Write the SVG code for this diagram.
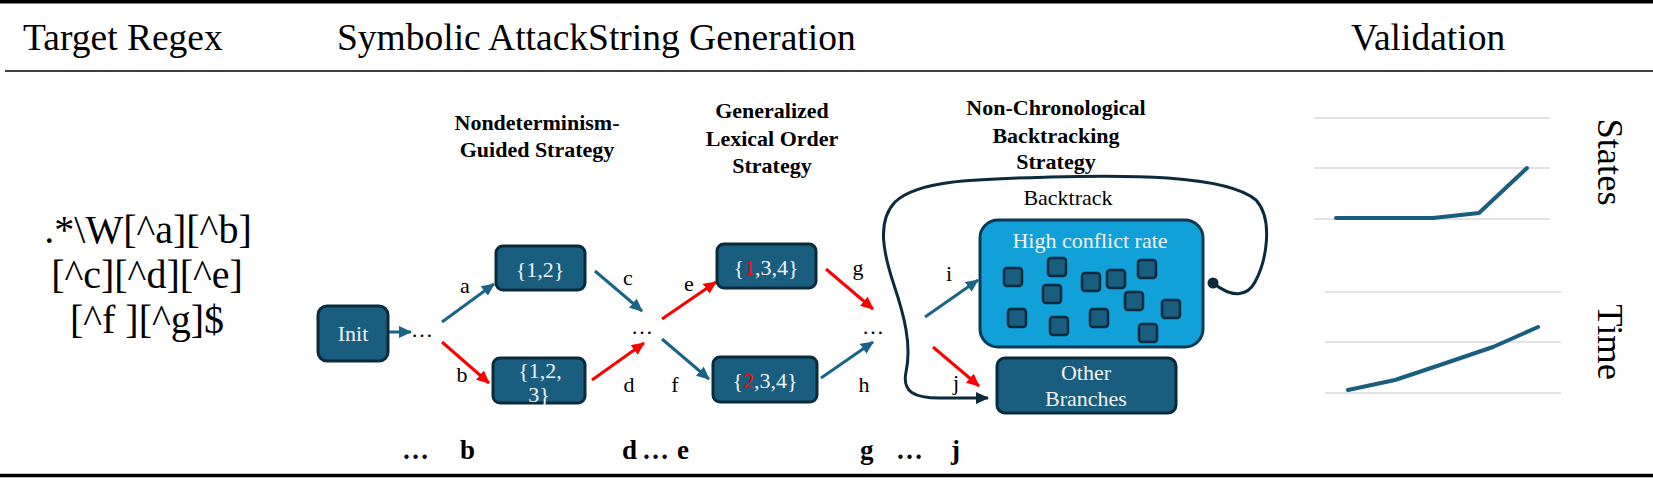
<svg xmlns="http://www.w3.org/2000/svg" width="1653" height="488" viewBox="0 0 1653 488">
<style>
text{font-family:"Liberation Serif","Times New Roman",serif;}
.hdr{font-size:37.5px;fill:#000;}
.rot{font-size:36.5px;fill:#000;text-anchor:middle;}
.ttl{font-size:22px;font-weight:bold;fill:#000;text-anchor:middle;}
.rx{font-size:40px;fill:#000;text-anchor:middle;}
.lbl{font-size:22px;fill:#000;text-anchor:middle;}
.ntx{font-size:22px;fill:#f2f2f2;text-anchor:middle;}
.red{fill:#ff0000;}
.node{fill:#195e7e;stroke:#0b2b3d;stroke-width:3;}
.sq{fill:#195e7e;stroke:#0b2b3d;stroke-width:2.5;}
.big{fill:#12a0d8;stroke:#0b3a54;stroke-width:3;}
.at{stroke:#1a6587;stroke-width:3;fill:none;marker-end:url(#mt);}
.ar{stroke:#ff0000;stroke-width:3;fill:none;marker-end:url(#mr);}
.grid{stroke:#d9d9d9;stroke-width:1.6;}
.cl{stroke:#195e7e;stroke-width:4;fill:none;stroke-linecap:round;stroke-linejoin:round;}
.bot{font-size:27px;font-weight:bold;fill:#000;}
</style>
<defs>
<marker id="mt" markerUnits="userSpaceOnUse" markerWidth="14" markerHeight="12" refX="12" refY="6" orient="auto"><path d="M0,0 L13,6 L0,12 z" fill="#1a6587"/></marker>
<marker id="mr" markerUnits="userSpaceOnUse" markerWidth="14" markerHeight="12" refX="12" refY="6" orient="auto"><path d="M0,0 L13,6 L0,12 z" fill="#ff0000"/></marker>
<marker id="mk" markerUnits="userSpaceOnUse" markerWidth="14" markerHeight="12" refX="12" refY="6" orient="auto"><path d="M0,0 L13,6 L0,12 z" fill="#0b2b3d"/></marker>
</defs>
<rect width="1653" height="488" fill="#fff"/>
<g id="frame">
<line x1="0" y1="1.8" x2="1653" y2="1.8" stroke="#000" stroke-width="3.6"/>
<line x1="5" y1="71" x2="1653" y2="71" stroke="#000" stroke-width="1.6"/>
<line x1="0" y1="475.5" x2="1653" y2="475.5" stroke="#000" stroke-width="3.6"/>
<text class="hdr" x="23" y="50">Target Regex</text>
<text class="hdr" x="337" y="50">Symbolic AttackString Generation</text>
<text class="hdr" x="1351" y="50">Validation</text>
</g>
<g id="regex">
<text class="rx" x="148" y="243">.*\W[^a][^b]</text>
<text class="rx" x="147" y="288">[^c][^d][^e]</text>
<text class="rx" x="147" y="333">[^f ][^g]$</text>
</g>
<g id="titles">
<text class="ttl" x="537" y="130">Nondeterminism-</text>
<text class="ttl" x="537" y="157">Guided Strategy</text>
<text class="ttl" x="772" y="118">Generalized</text>
<text class="ttl" x="772" y="146">Lexical Order</text>
<text class="ttl" x="772" y="173">Strategy</text>
<text class="ttl" x="1056" y="115">Non-Chronological</text>
<text class="ttl" x="1056" y="143">Backtracking</text>
<text class="ttl" x="1056" y="169">Strategy</text>
</g>
<g id="connectors">
<line class="at" x1="388" y1="332" x2="411" y2="332"/>
<line class="at" x1="442" y1="322" x2="494" y2="284"/>
<line class="ar" x1="442" y1="342" x2="489" y2="383"/>
<line class="at" x1="595" y1="271" x2="642" y2="311"/>
<line class="ar" x1="592" y1="380" x2="644" y2="343"/>
<line class="ar" x1="662" y1="319" x2="716" y2="282"/>
<line class="at" x1="662" y1="339" x2="709" y2="379"/>
<line class="ar" x1="826" y1="269" x2="873" y2="309"/>
<line class="at" x1="821" y1="378" x2="873" y2="342"/>
<line class="at" x1="925" y1="317" x2="978" y2="280"/>
<line class="ar" x1="933" y1="347" x2="979" y2="386"/>
<path d="M1213,283 C1232,298 1247,297 1255,282 C1266,262 1274,220 1256,200 C1225,174 1120,175 1050,177 C975,179 918,180 895,202 C876,222 884,255 894,285 C904,315 912,345 906,372 C902,392 914,398 940,398 L988,398" fill="none" stroke="#0b2b3d" stroke-width="3" marker-end="url(#mk)"/>
<circle cx="1213" cy="283" r="5.5" fill="#0b2b3d"/>
<text class="lbl" x="465" y="293">a</text>
<text class="lbl" x="462" y="382">b</text>
<text class="lbl" x="628" y="285">c</text>
<text class="lbl" x="629" y="392">d</text>
<text class="lbl" x="689" y="291">e</text>
<text class="lbl" x="675" y="392">f</text>
<text class="lbl" x="858" y="275">g</text>
<text class="lbl" x="864" y="392">h</text>
<text class="lbl" x="949" y="281">i</text>
<text class="lbl" x="956" y="390">j</text>
<text class="lbl" x="422" y="337">…</text>
<text class="lbl" x="642" y="334">…</text>
<text class="lbl" x="873" y="334">…</text>
<text class="lbl" x="1068" y="205">Backtrack</text>
</g>
<g id="init">
<rect class="node" x="318" y="306" width="70" height="55" rx="9"/>
<text class="ntx" x="353" y="341">Init</text>
</g>
<g id="n12">
<rect class="node" x="496" y="246" width="89" height="44" rx="7"/>
<text class="ntx" x="540" y="277">{1,2}</text>
</g>
<g id="n123">
<rect class="node" x="493" y="358" width="92" height="45" rx="7"/>
<text class="ntx" x="540" y="378">{1,2,</text>
<text class="ntx" x="539" y="402">3}</text>
</g>
<g id="n134">
<rect class="node" x="717" y="244" width="99" height="44" rx="7"/>
<text class="ntx" x="766" y="275">{<tspan class="red">1</tspan>,3,4}</text>
</g>
<g id="n234">
<rect class="node" x="713" y="357" width="104" height="45" rx="7"/>
<text class="ntx" x="765" y="388">{<tspan class="red">2</tspan>,3,4}</text>
</g>
<g id="highconflict">
<rect class="big" x="980" y="220" width="223" height="127" rx="18"/>
<text class="ntx" x="1090" y="248">High  conflict rate</text>
<rect class="sq" x="1004" y="268" width="18" height="18" rx="3"/>
<rect class="sq" x="1048" y="258" width="18" height="18" rx="3"/>
<rect class="sq" x="1043" y="285" width="18" height="18" rx="3"/>
<rect class="sq" x="1082" y="273" width="18" height="18" rx="3"/>
<rect class="sq" x="1107" y="270" width="18" height="18" rx="3"/>
<rect class="sq" x="1138" y="260" width="18" height="18" rx="3"/>
<rect class="sq" x="1125" y="292" width="18" height="18" rx="3"/>
<rect class="sq" x="1162" y="300" width="18" height="18" rx="3"/>
<rect class="sq" x="1008" y="309" width="18" height="18" rx="3"/>
<rect class="sq" x="1050" y="317" width="18" height="18" rx="3"/>
<rect class="sq" x="1090" y="309" width="18" height="18" rx="3"/>
<rect class="sq" x="1139" y="324" width="18" height="18" rx="3"/>
</g>
<g id="other">
<rect class="node" x="997" y="358" width="179" height="55" rx="8"/>
<text class="ntx" x="1086" y="380">Other</text>
<text class="ntx" x="1086" y="406">Branches</text>
</g>
<g id="validation">
<line class="grid" x1="1314" y1="118" x2="1550" y2="118"/>
<line class="grid" x1="1314" y1="168" x2="1550" y2="168"/>
<line class="grid" x1="1314" y1="219" x2="1550" y2="219"/>
<polyline class="cl" points="1336,218 1433,218 1479,213 1527,168"/>
<line class="grid" x1="1325" y1="292" x2="1561" y2="292"/>
<line class="grid" x1="1325" y1="342" x2="1561" y2="342"/>
<line class="grid" x1="1325" y1="393" x2="1561" y2="393"/>
<polyline class="cl" points="1348,390 1395,380 1440,365 1493,347 1538,327"/>
<text class="rot" transform="translate(1598,162) rotate(90)">States</text>
<text class="rot" transform="translate(1598,342) rotate(90)">Time</text>
</g>
<g id="sequence">
<text class="bot" x="402" y="459">…</text>
<text class="bot" x="460" y="459">b</text>
<text class="bot" y="459"><tspan x="622">d</tspan><tspan x="642">…</tspan><tspan x="677">e</tspan></text>
<text class="bot" x="860" y="459">g</text>
<text class="bot" x="896" y="459">…</text>
<text class="bot" x="951" y="459">j</text>
</g>
</svg>
